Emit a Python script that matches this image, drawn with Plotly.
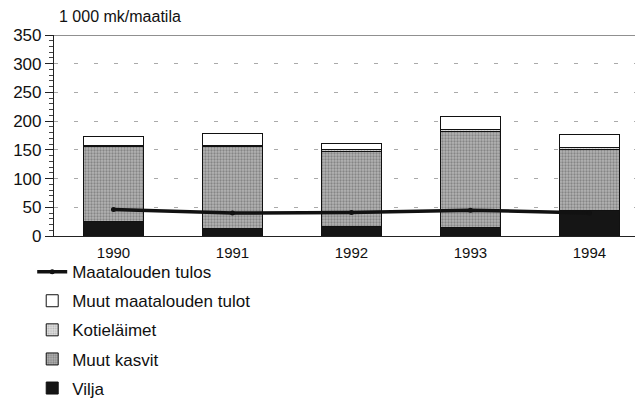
import plotly.graph_objects as go

years = ["1990", "1991", "1992", "1993", "1994"]
vilja = [26, 13, 16, 14, 44]
muut_kasvit = [130, 143, 132, 168, 107]
kotielaimet = [2, 2, 2, 3, 3]
muut_tulot = [15, 20, 11, 23, 23]
tulos = [46, 40, 41, 45, 40]

FONT = "Liberation Sans Narrow, Arial Narrow, Liberation Sans, sans-serif"

fig = go.Figure()
bar_line = {"color": "#111", "width": 1}
fig.add_trace(go.Bar(
    x=years, y=vilja, name="Vilja", legendrank=5, legendgroup="e",
    marker={"color": "#151515", "line": bar_line},
))
fig.add_trace(go.Bar(
    x=years, y=muut_kasvit, name="Muut kasvit", legendrank=4, legendgroup="d",
    marker={"color": "#a8a8a8", "line": bar_line,
            "pattern": {"shape": ".", "fgcolor": "#555", "bgcolor": "#b4b4b4",
                        "size": 3, "solidity": 0.45}},
))
fig.add_trace(go.Bar(
    x=years, y=kotielaimet, name="Kotieläimet", legendrank=3, legendgroup="c",
    marker={"color": "#d8d8d8", "line": bar_line,
            "pattern": {"shape": ".", "fgcolor": "#888", "bgcolor": "#dedede",
                        "size": 3, "solidity": 0.35}},
))
fig.add_trace(go.Bar(
    x=years, y=muut_tulot, name="Muut maatalouden tulot", legendrank=2, legendgroup="b",
    marker={"color": "white", "line": bar_line},
))
fig.add_trace(go.Scatter(
    x=years, y=tulos, name="Maatalouden tulos", legendrank=1, legendgroup="a",
    mode="lines+markers",
    line={"color": "#111", "width": 3.5},
    marker={"color": "#111", "size": 5},
))

fig.add_shape(type="line", xref="paper", yref="y", x0=0, x1=1, y0=350, y1=350,
              line={"color": "#222", "width": 1.2})
fig.add_annotation(text="1 000 mk/maatila", xref="paper", yref="paper",
                   x=0.005, y=1.09, xanchor="left", yanchor="middle",
                   showarrow=False, font={"size": 16, "color": "#111"})

# page body adds an 8px offset, so the figure is drawn 8px smaller
fig.update_layout(
    barmode="stack",
    bargap=0.5,
    width=635,
    height=396,
    margin={"l": 46, "r": 0, "t": 27, "b": 168, "autoexpand": False},
    plot_bgcolor="white",
    paper_bgcolor="white",
    font={"family": FONT, "color": "#111", "size": 15},
    xaxis={
        "range": [-0.5, 4.45],
        "showline": True, "linecolor": "#222", "linewidth": 1.2,
        "ticks": "", "tickfont": {"size": 15}, "ticklabelstandoff": 3,
    },
    yaxis={
        "range": [0, 350], "dtick": 50,
        "showline": True, "linecolor": "#222", "linewidth": 1.2,
        "ticks": "outside", "ticklen": 8, "tickcolor": "#222",
        "minor": {"dtick": 10, "ticks": "outside", "ticklen": 4, "tickcolor": "#444"},
        "showgrid": True, "gridcolor": "#aaa", "griddash": "4px,16px", "gridwidth": 1,
        "tickfont": {"size": 17},
    },
    legend={
        "x": -0.037, "y": -0.09, "xanchor": "left", "yanchor": "top",
        "font": {"size": 17}, "tracegroupgap": 4,
        "bgcolor": "rgba(0,0,0,0)",
    },
)

fig.write_html("out.html")
